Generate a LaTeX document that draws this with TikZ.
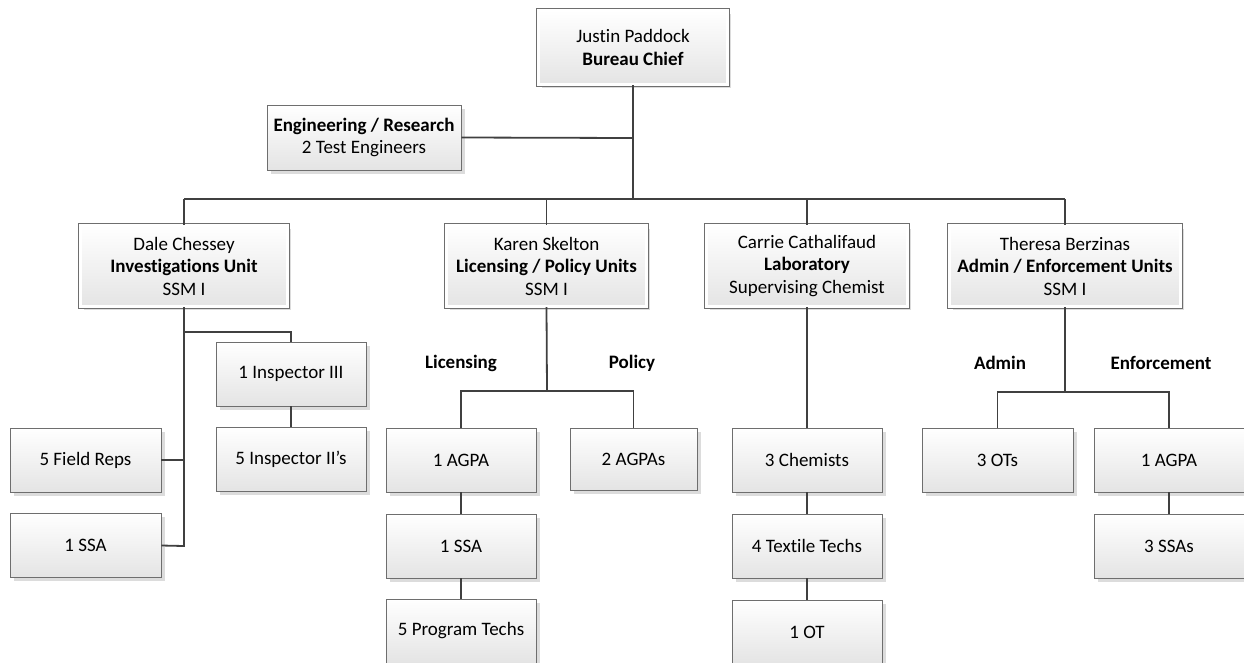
\documentclass[tikz,border=0pt]{standalone}
\usepackage{fontspec}
\setmainfont[Ligatures=NoCommon]{Carlito}
\usetikzlibrary{shadows}
\definecolor{bordc}{HTML}{6E6E6E}
\definecolor{linec}{HTML}{404040}
\definecolor{shadc}{HTML}{DCDCDC}
\definecolor{botc}{HTML}{E4E4E4}
\tikzset{
  unit/.style={draw=bordc, line width=0.8pt, top color=white, bottom color=botc,
    inner sep=0pt, align=center, font=\fontsize{19}{22.5}\selectfont,
    drop shadow={shadow xshift=3.5pt, shadow yshift=-3.5pt, fill=shadc, opacity=1}},
  leaf/.style={unit, minimum width=150pt, minimum height=64pt},
  head/.style={unit, double=white, double distance=3pt, line width=0.7pt},
  conn/.style={draw=linec, line width=1.8pt},
  lbl/.style={font=\fontsize{19}{22.5}\selectfont\bfseries, inner sep=0pt}
}
\begin{document}
\begin{tikzpicture}[x=1pt,y=-1pt]
\useasboundingbox (0,0) rectangle (1244,662);
% top
\node[head, minimum width=189.6pt, minimum height=74.6pt] (chief) at (633,47.5) {Justin Paddock\\\textbf{Bureau Chief}};
\node[unit, minimum width=194pt, minimum height=65pt] (eng) at (364,137.5) {\textbf{Engineering / Research}\\2 Test Engineers};
% level 2
\node[head, minimum width=207.6pt, minimum height=81.6pt] (dale) at (184,266) {Dale Chessey\\\textbf{Investigations Unit}\\SSM I};
\node[head, minimum width=200.6pt, minimum height=81.6pt] (karen) at (546.5,266) {Karen Skelton\\\textbf{Licensing / Policy Units}\\SSM I};
\node[head, minimum width=201.6pt, minimum height=81.6pt] (carrie) at (807,266) {Carrie Cathalifaud\\\textbf{Laboratory}\\Supervising Chemist};
\node[head, minimum width=231.6pt, minimum height=81.6pt] (theresa) at (1065,266) {Theresa Berzinas\\\textbf{Admin / Enforcement Units}\\SSM I};
% Dale's unit
\node[leaf, minimum width=151pt] (field) at (85.5,460) {5 Field Reps};
\node[leaf, minimum width=151pt] (dssa) at (85.5,545.5) {1 SSA};
\node[leaf] (insp3) at (291,374) {1 Inspector III};
\node[leaf] (insp2) at (291,459.5) {5 Inspector II’s};
% Karen's unit
\node[leaf] (kagpa) at (461,460) {1 AGPA};
\node[leaf, minimum width=127pt, minimum height=62pt] (kagpas) at (633.5,459) {2 AGPAs};
\node[leaf] (kssa) at (461,546) {1 SSA};
\node[leaf] (kpt) at (461,631) {5 Program Techs};
% Carrie's unit
\node[leaf] (chem) at (807,460) {3 Chemists};
\node[leaf] (textile) at (807,546) {4 Textile Techs};
\node[leaf] (cot) at (807,632) {1 OT};
% Theresa's unit
\node[leaf, minimum width=151pt] (tots) at (997.5,460) {3 OTs};
\node[leaf] (tagpa) at (1169,460) {1 AGPA};
\node[leaf] (tssas) at (1169,546) {3 SSAs};
% labels
\node[lbl] (llic) at (461,363) {Licensing};
\node[lbl] (lpol) at (632,363) {Policy};
\node[lbl] (ladm) at (1000,363) {Admin};
\node[lbl] (lenf) at (1161,363) {Enforcement};
% coordinates
\coordinate (bus) at (633,199);
\coordinate (busL) at (184,199);
\coordinate (busR) at (1065,199);
\coordinate (dbr) at (184,332);
\coordinate (dbrR) at (291,332);
\coordinate (dend) at (184,546);
\coordinate (kbr) at (547,391);
\coordinate (tbr) at (1065,392);
% connectors
\path[conn] (chief.south) -- (bus);
\path[conn] (eng.east) -- (633,138);
\path[conn] (busL) -- (busR);
\path[conn] (dale.north) -- (busL);
\path[conn] (karen.north) -- (546.5,199);
\path[conn] (carrie.north) -- (807,199);
\path[conn] (theresa.north) -- (busR);
% Dale
\path[conn] (dale.south) -- (dend) -- (dssa.east);
\path[conn] (field.east) -- (184,460);
\path[conn] (dbr) -- (dbrR) -- (insp3.north);
\path[conn] (insp3.south) -- (insp2.north);
% Karen
\path[conn] (karen.south) -- (kbr);
\path[conn] (kagpa.north) -- (461,391) -- (633.5,391) -- (kagpas.north);
\path[conn] (kagpa.south) -- (kssa.north);
\path[conn] (kssa.south) -- (kpt.north);
% Carrie
\path[conn] (carrie.south) -- (chem.north);
\path[conn] (chem.south) -- (textile.north);
\path[conn] (textile.south) -- (cot.north);
% Theresa
\path[conn] (theresa.south) -- (tbr);
\path[conn] (tots.north) -- (997.5,392) -- (1169,392) -- (tagpa.north);
\path[conn] (tagpa.south) -- (tssas.north);
\end{tikzpicture}
\end{document}
